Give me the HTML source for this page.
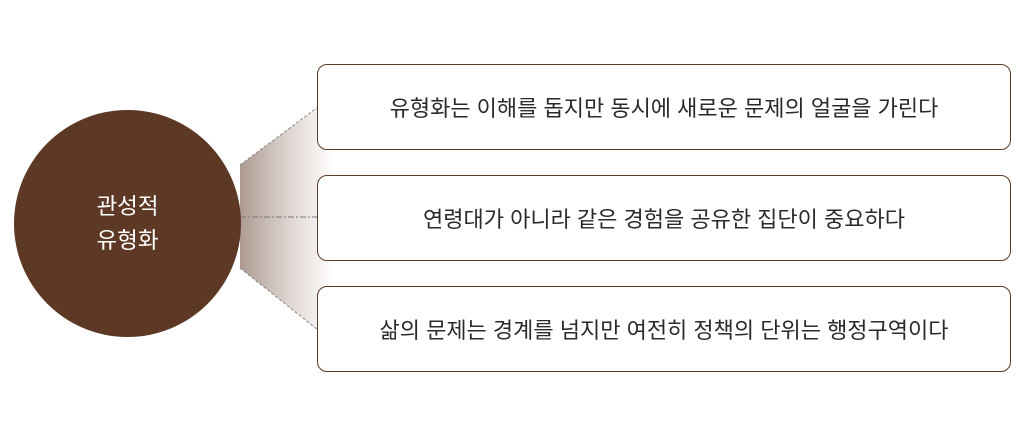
<!DOCTYPE html>
<html><head><meta charset="utf-8"><style>
body{margin:0;width:1027px;height:426px;background:#fff;position:relative;overflow:hidden;font-family:"Liberation Sans","Noto Sans CJK KR",sans-serif}
.box{position:absolute;left:317px;width:694px;height:86px;border:1px solid #5e3a25;border-radius:10px;box-sizing:border-box;display:flex;align-items:center;justify-content:center;font-size:22px;color:#2a2a2a;background:#fff}
.c{position:absolute;left:14px;top:110px;width:227px;height:227px;border-radius:50%;background:#5c3825;color:#fff;font-size:22.5px;display:flex;align-items:center;justify-content:center;text-align:center;line-height:34px}
</style></head><body>
<svg width="1027" height="426" style="position:absolute;left:0;top:0">
<defs><linearGradient id="g" x1="235" x2="335" y1="0" y2="0" gradientUnits="userSpaceOnUse">
<stop offset="0" stop-color="#a8958b"/><stop offset="0.6" stop-color="#e4dcd8"/><stop offset="1" stop-color="#fff"/></linearGradient></defs>
<polygon points="240,165 318,107 340,107 340,330 318,330 240,268" fill="url(#g)"/>
<line x1="240" y1="165" x2="318" y2="107" stroke="#888" stroke-dasharray="3,2"/>
<line x1="240" y1="268" x2="318" y2="330" stroke="#888" stroke-dasharray="3,2"/>
<line x1="240" y1="217" x2="318" y2="217" stroke="#777" stroke-dasharray="6,2,2,2"/>
</svg>
<div class="c">관성적<br>유형화</div>
<div class="box" style="top:64px">유형화는 이해를 돕지만 동시에 새로운 문제의 얼굴을 가린다</div>
<div class="box" style="top:175px">연령대가 아니라 같은 경험을 공유한 집단이 중요하다</div>
<div class="box" style="top:286px">삶의 문제는 경계를 넘지만 여전히 정책의 단위는 행정구역이다</div>
</body></html>
